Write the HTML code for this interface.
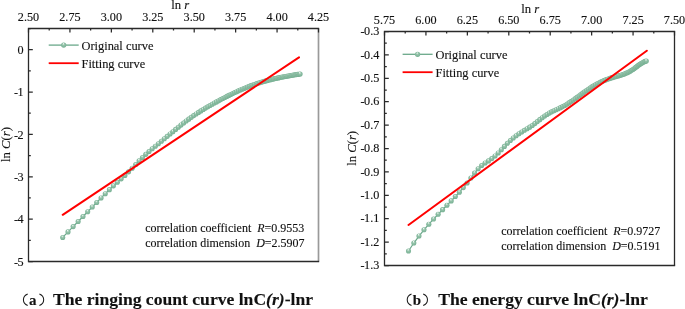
<!DOCTYPE html>
<html><head><meta charset="utf-8"><style>
html,body{margin:0;padding:0;background:#fff;}
svg{display:block;}
svg{font-family:"Liberation Serif",serif;font-size:12px;will-change:transform;} text{fill:#111;stroke:#111;stroke-width:0.12px;}
</style></head><body>
<svg width="685" height="309" viewBox="0 0 685 309">
<defs>
<radialGradient id="ball" cx="0.5" cy="0.5" r="0.5" fx="0.42" fy="0.2">
<stop offset="0" stop-color="#f7fbf9"/>
<stop offset="0.2" stop-color="#cde3d6"/>
<stop offset="0.45" stop-color="#93c2a9"/>
<stop offset="0.85" stop-color="#80b69a"/>
<stop offset="1" stop-color="#76af92"/>
</radialGradient>
<clipPath id="clipL"><rect x="29" y="29" width="289" height="232"/></clipPath>
<clipPath id="clipR"><rect x="385" y="32" width="289" height="233"/></clipPath>
</defs>
<rect width="685" height="309" fill="#fff"/>
<path d="M318.5 28.5V261.5" stroke="#9a9a9a" stroke-width="1.7" fill="none"/>
<path d="M318.5 28.5H28.5V261.5H318.5" fill="none" stroke="#2a2a2a" stroke-width="1.3" stroke-linecap="square"/>
<path d="M28.5 28.5v4 M69.93 28.5v4 M111.36 28.5v4 M152.79 28.5v4 M194.21 28.5v4 M235.64 28.5v4 M277.07 28.5v4 M318.5 28.5v4 M49.21 28.5v2 M90.64 28.5v2 M132.07 28.5v2 M173.5 28.5v2 M214.93 28.5v2 M256.36 28.5v2 M297.79 28.5v2 M28.5 49.68h4.3 M28.5 92.05h4.3 M28.5 134.41h4.3 M28.5 176.77h4.3 M28.5 219.14h4.3 M28.5 261.5h4.3 M28.5 28.5h2.3 M28.5 70.86h2.3 M28.5 113.23h2.3 M28.5 155.59h2.3 M28.5 197.95h2.3 M28.5 240.32h2.3" stroke="#2a2a2a" stroke-width="1.25" fill="none"/>
<text x="28.5" y="21.2" text-anchor="middle" font-size="12.2">2.50</text>
<text x="69.93" y="21.2" text-anchor="middle" font-size="12.2">2.75</text>
<text x="111.36" y="21.2" text-anchor="middle" font-size="12.2">3.00</text>
<text x="152.79" y="21.2" text-anchor="middle" font-size="12.2">3.25</text>
<text x="194.21" y="21.2" text-anchor="middle" font-size="12.2">3.50</text>
<text x="235.64" y="21.2" text-anchor="middle" font-size="12.2">3.75</text>
<text x="277.07" y="21.2" text-anchor="middle" font-size="12.2">4.00</text>
<text x="318.5" y="21.2" text-anchor="middle" font-size="12.2">4.25</text>
<text x="23.7" y="53.88" text-anchor="end" font-size="12.2">0</text>
<text x="23.7" y="96.25" text-anchor="end" font-size="12.2">-<tspan dx="-0.4">1</tspan></text>
<text x="23.7" y="138.61" text-anchor="end" font-size="12.2">-<tspan dx="-0.4">2</tspan></text>
<text x="23.7" y="180.97" text-anchor="end" font-size="12.2">-<tspan dx="-0.4">3</tspan></text>
<text x="23.7" y="223.34" text-anchor="end" font-size="12.2">-<tspan dx="-0.4">4</tspan></text>
<text x="23.7" y="265.7" text-anchor="end" font-size="12.2">-<tspan dx="-0.4">5</tspan></text>
<text x="171.2" y="8.8" font-size="12.7">ln <tspan font-style="italic">r</tspan></text>
<text transform="translate(9.6,144.5) rotate(-90)" text-anchor="middle" font-size="12.7">ln <tspan font-style="italic">C</tspan>(<tspan font-style="italic">r</tspan>)</text>
<g clip-path="url(#clipL)">
<path d="M62.7 237.43 L68.01 231.89 L73.15 226.58 L78.14 221.46 L82.98 216.51 L87.68 211.71 L92.26 207.03 L96.71 202.45 L101.05 197.98 L105.27 193.69 L109.39 189.63 L113.41 185.86 L117.34 182.3 L121.17 178.85 L124.92 175.41 L128.58 171.87 L132.17 168.19 L135.68 164.47 L139.11 160.85 L142.48 157.44 L145.78 154.33 L149.01 151.47 L152.19 148.79 L155.3 146.21 L158.36 143.7 L161.36 141.22 L164.3 138.77 L167.2 136.36 L170.05 133.99 L172.84 131.68 L175.6 129.42 L178.3 127.22 L180.97 125.09 L183.59 123.03 L186.17 121.05 L188.71 119.15 L191.21 117.33 L193.68 115.6 L196.1 113.95 L198.5 112.39 L200.86 110.9 L203.18 109.48 L205.48 108.12 L207.74 106.8 L209.97 105.53 L212.18 104.29 L214.35 103.07 L216.5 101.89 L218.62 100.74 L220.71 99.61 L222.77 98.52 L224.81 97.45 L226.83 96.41 L228.82 95.4 L230.79 94.43 L232.73 93.48 L234.65 92.57 L236.55 91.68 L238.43 90.83 L240.29 90.01 L242.13 89.21 L243.94 88.44 L245.74 87.71 L247.52 87 L249.28 86.32 L251.02 85.67 L252.74 85.04 L254.44 84.45 L256.13 83.87 L257.8 83.32 L259.45 82.8 L261.09 82.29 L262.71 81.81 L264.32 81.34 L265.91 80.9 L267.48 80.47 L269.04 80.06 L270.59 79.67 L272.12 79.29 L273.64 78.92 L275.14 78.57 L276.63 78.23 L278.11 77.91 L279.57 77.6 L281.02 77.3 L282.46 77.01 L283.88 76.73 L285.3 76.46 L286.7 76.2 L288.09 75.95 L289.47 75.7 L290.83 75.47 L292.19 75.24 L293.53 75.02 L294.87 74.81 L296.19 74.6 L297.51 74.4 L298.81 74.2 L300.1 74.01" fill="none" stroke="#6aa88a" stroke-width="1.2"/>
<circle cx="62.7" cy="237.43" r="2.55" fill="url(#ball)"/>
<circle cx="68.01" cy="231.89" r="2.55" fill="url(#ball)"/>
<circle cx="73.15" cy="226.58" r="2.55" fill="url(#ball)"/>
<circle cx="78.14" cy="221.46" r="2.55" fill="url(#ball)"/>
<circle cx="82.98" cy="216.51" r="2.55" fill="url(#ball)"/>
<circle cx="87.68" cy="211.71" r="2.55" fill="url(#ball)"/>
<circle cx="92.26" cy="207.03" r="2.55" fill="url(#ball)"/>
<circle cx="96.71" cy="202.45" r="2.55" fill="url(#ball)"/>
<circle cx="101.05" cy="197.98" r="2.55" fill="url(#ball)"/>
<circle cx="105.27" cy="193.69" r="2.55" fill="url(#ball)"/>
<circle cx="109.39" cy="189.63" r="2.55" fill="url(#ball)"/>
<circle cx="113.41" cy="185.86" r="2.55" fill="url(#ball)"/>
<circle cx="117.34" cy="182.3" r="2.55" fill="url(#ball)"/>
<circle cx="121.17" cy="178.85" r="2.55" fill="url(#ball)"/>
<circle cx="124.92" cy="175.41" r="2.55" fill="url(#ball)"/>
<circle cx="128.58" cy="171.87" r="2.55" fill="url(#ball)"/>
<circle cx="132.17" cy="168.19" r="2.55" fill="url(#ball)"/>
<circle cx="135.68" cy="164.47" r="2.55" fill="url(#ball)"/>
<circle cx="139.11" cy="160.85" r="2.55" fill="url(#ball)"/>
<circle cx="142.48" cy="157.44" r="2.55" fill="url(#ball)"/>
<circle cx="145.78" cy="154.33" r="2.55" fill="url(#ball)"/>
<circle cx="149.01" cy="151.47" r="2.55" fill="url(#ball)"/>
<circle cx="152.19" cy="148.79" r="2.55" fill="url(#ball)"/>
<circle cx="155.3" cy="146.21" r="2.55" fill="url(#ball)"/>
<circle cx="158.36" cy="143.7" r="2.55" fill="url(#ball)"/>
<circle cx="161.36" cy="141.22" r="2.55" fill="url(#ball)"/>
<circle cx="164.3" cy="138.77" r="2.55" fill="url(#ball)"/>
<circle cx="167.2" cy="136.36" r="2.55" fill="url(#ball)"/>
<circle cx="170.05" cy="133.99" r="2.55" fill="url(#ball)"/>
<circle cx="172.84" cy="131.68" r="2.55" fill="url(#ball)"/>
<circle cx="175.6" cy="129.42" r="2.55" fill="url(#ball)"/>
<circle cx="178.3" cy="127.22" r="2.55" fill="url(#ball)"/>
<circle cx="180.97" cy="125.09" r="2.55" fill="url(#ball)"/>
<circle cx="183.59" cy="123.03" r="2.55" fill="url(#ball)"/>
<circle cx="186.17" cy="121.05" r="2.55" fill="url(#ball)"/>
<circle cx="188.71" cy="119.15" r="2.55" fill="url(#ball)"/>
<circle cx="191.21" cy="117.33" r="2.55" fill="url(#ball)"/>
<circle cx="193.68" cy="115.6" r="2.55" fill="url(#ball)"/>
<circle cx="196.1" cy="113.95" r="2.55" fill="url(#ball)"/>
<circle cx="198.5" cy="112.39" r="2.55" fill="url(#ball)"/>
<circle cx="200.86" cy="110.9" r="2.55" fill="url(#ball)"/>
<circle cx="203.18" cy="109.48" r="2.55" fill="url(#ball)"/>
<circle cx="205.48" cy="108.12" r="2.55" fill="url(#ball)"/>
<circle cx="207.74" cy="106.8" r="2.55" fill="url(#ball)"/>
<circle cx="209.97" cy="105.53" r="2.55" fill="url(#ball)"/>
<circle cx="212.18" cy="104.29" r="2.55" fill="url(#ball)"/>
<circle cx="214.35" cy="103.07" r="2.55" fill="url(#ball)"/>
<circle cx="216.5" cy="101.89" r="2.55" fill="url(#ball)"/>
<circle cx="218.62" cy="100.74" r="2.55" fill="url(#ball)"/>
<circle cx="220.71" cy="99.61" r="2.55" fill="url(#ball)"/>
<circle cx="222.77" cy="98.52" r="2.55" fill="url(#ball)"/>
<circle cx="224.81" cy="97.45" r="2.55" fill="url(#ball)"/>
<circle cx="226.83" cy="96.41" r="2.55" fill="url(#ball)"/>
<circle cx="228.82" cy="95.4" r="2.55" fill="url(#ball)"/>
<circle cx="230.79" cy="94.43" r="2.55" fill="url(#ball)"/>
<circle cx="232.73" cy="93.48" r="2.55" fill="url(#ball)"/>
<circle cx="234.65" cy="92.57" r="2.55" fill="url(#ball)"/>
<circle cx="236.55" cy="91.68" r="2.55" fill="url(#ball)"/>
<circle cx="238.43" cy="90.83" r="2.55" fill="url(#ball)"/>
<circle cx="240.29" cy="90.01" r="2.55" fill="url(#ball)"/>
<circle cx="242.13" cy="89.21" r="2.55" fill="url(#ball)"/>
<circle cx="243.94" cy="88.44" r="2.55" fill="url(#ball)"/>
<circle cx="245.74" cy="87.71" r="2.55" fill="url(#ball)"/>
<circle cx="247.52" cy="87" r="2.55" fill="url(#ball)"/>
<circle cx="249.28" cy="86.32" r="2.55" fill="url(#ball)"/>
<circle cx="251.02" cy="85.67" r="2.55" fill="url(#ball)"/>
<circle cx="252.74" cy="85.04" r="2.55" fill="url(#ball)"/>
<circle cx="254.44" cy="84.45" r="2.55" fill="url(#ball)"/>
<circle cx="256.13" cy="83.87" r="2.55" fill="url(#ball)"/>
<circle cx="257.8" cy="83.32" r="2.55" fill="url(#ball)"/>
<circle cx="259.45" cy="82.8" r="2.55" fill="url(#ball)"/>
<circle cx="261.09" cy="82.29" r="2.55" fill="url(#ball)"/>
<circle cx="262.71" cy="81.81" r="2.55" fill="url(#ball)"/>
<circle cx="264.32" cy="81.34" r="2.55" fill="url(#ball)"/>
<circle cx="265.91" cy="80.9" r="2.55" fill="url(#ball)"/>
<circle cx="267.48" cy="80.47" r="2.55" fill="url(#ball)"/>
<circle cx="269.04" cy="80.06" r="2.55" fill="url(#ball)"/>
<circle cx="270.59" cy="79.67" r="2.55" fill="url(#ball)"/>
<circle cx="272.12" cy="79.29" r="2.55" fill="url(#ball)"/>
<circle cx="273.64" cy="78.92" r="2.55" fill="url(#ball)"/>
<circle cx="275.14" cy="78.57" r="2.55" fill="url(#ball)"/>
<circle cx="276.63" cy="78.23" r="2.55" fill="url(#ball)"/>
<circle cx="278.11" cy="77.91" r="2.55" fill="url(#ball)"/>
<circle cx="279.57" cy="77.6" r="2.55" fill="url(#ball)"/>
<circle cx="281.02" cy="77.3" r="2.55" fill="url(#ball)"/>
<circle cx="282.46" cy="77.01" r="2.55" fill="url(#ball)"/>
<circle cx="283.88" cy="76.73" r="2.55" fill="url(#ball)"/>
<circle cx="285.3" cy="76.46" r="2.55" fill="url(#ball)"/>
<circle cx="286.7" cy="76.2" r="2.55" fill="url(#ball)"/>
<circle cx="288.09" cy="75.95" r="2.55" fill="url(#ball)"/>
<circle cx="289.47" cy="75.7" r="2.55" fill="url(#ball)"/>
<circle cx="290.83" cy="75.47" r="2.55" fill="url(#ball)"/>
<circle cx="292.19" cy="75.24" r="2.55" fill="url(#ball)"/>
<circle cx="293.53" cy="75.02" r="2.55" fill="url(#ball)"/>
<circle cx="294.87" cy="74.81" r="2.55" fill="url(#ball)"/>
<circle cx="296.19" cy="74.6" r="2.55" fill="url(#ball)"/>
<circle cx="297.51" cy="74.4" r="2.55" fill="url(#ball)"/>
<circle cx="298.81" cy="74.2" r="2.55" fill="url(#ball)"/>
<circle cx="300.1" cy="74.01" r="2.55" fill="url(#ball)"/>
<line x1="62.7" y1="214.8" x2="299" y2="57.4" stroke="#f00" stroke-width="2" stroke-linecap="round"/>
</g>
<line x1="48.7" y1="45.1" x2="78.7" y2="45.1" stroke="#6aa88a" stroke-width="1.3"/>
<circle cx="63.7" cy="45.1" r="2.6" fill="url(#ball)"/>
<line x1="48.7" y1="63.2" x2="78.7" y2="63.2" stroke="#f00" stroke-width="1.8"/>
<text x="81.5" y="50" font-size="12.4">Original curve</text>
<text x="81.5" y="67.7" font-size="12.4">Fitting curve</text>
<text x="145.2" y="231.5" xml:space="preserve">correlation coefficient  <tspan font-style="italic">R</tspan>=0.9553</text>
<text x="145.2" y="246.5" xml:space="preserve">correlation dimension  <tspan font-style="italic">D</tspan>=2.5907</text>
<path d="M27.7 294 C22 296.2 22 303.3 27.7 305.5 M39.4 294 C45.1 296.2 45.1 303.3 39.4 305.5" fill="none" stroke="#1a1a1a" stroke-width="1.05"/>
<g style="font-weight:bold;font-size:17.6px"><text x="29" y="304.9" font-size="15">a</text><text x="53" y="305.4">The ringing count curve lnC<tspan font-style="italic">(r)</tspan>-lnr</text></g>
<path d="M674.5 31.5V265.5" stroke="#2a2a2a" stroke-width="1.3" fill="none"/>
<path d="M674.5 31.5H384.5V265.5H674.5" fill="none" stroke="#2a2a2a" stroke-width="1.3" stroke-linecap="square"/>
<path d="M384.5 31.5v4 M425.93 31.5v4 M467.36 31.5v4 M508.79 31.5v4 M550.21 31.5v4 M591.64 31.5v4 M633.07 31.5v4 M674.5 31.5v4 M405.21 31.5v2 M446.64 31.5v2 M488.07 31.5v2 M529.5 31.5v2 M570.93 31.5v2 M612.36 31.5v2 M653.79 31.5v2 M384.5 31.5h4.3 M384.5 54.9h4.3 M384.5 78.3h4.3 M384.5 101.7h4.3 M384.5 125.1h4.3 M384.5 148.5h4.3 M384.5 171.9h4.3 M384.5 195.3h4.3 M384.5 218.7h4.3 M384.5 242.1h4.3 M384.5 265.5h4.3 M384.5 43.2h2.3 M384.5 66.6h2.3 M384.5 90h2.3 M384.5 113.4h2.3 M384.5 136.8h2.3 M384.5 160.2h2.3 M384.5 183.6h2.3 M384.5 207h2.3 M384.5 230.4h2.3 M384.5 253.8h2.3" stroke="#2a2a2a" stroke-width="1.25" fill="none"/>
<text x="384.5" y="23.9" text-anchor="middle" font-size="12.2">5.75</text>
<text x="425.93" y="23.9" text-anchor="middle" font-size="12.2">6.00</text>
<text x="467.36" y="23.9" text-anchor="middle" font-size="12.2">6.25</text>
<text x="508.79" y="23.9" text-anchor="middle" font-size="12.2">6.50</text>
<text x="550.21" y="23.9" text-anchor="middle" font-size="12.2">6.75</text>
<text x="591.64" y="23.9" text-anchor="middle" font-size="12.2">7.00</text>
<text x="633.07" y="23.9" text-anchor="middle" font-size="12.2">7.25</text>
<text x="674.5" y="23.9" text-anchor="middle" font-size="12.2">7.50</text>
<text x="379.3" y="35.1" text-anchor="end" font-size="12.2">-<tspan dx="-0.4">0.3</tspan></text>
<text x="379.3" y="58.5" text-anchor="end" font-size="12.2">-<tspan dx="-0.4">0.4</tspan></text>
<text x="379.3" y="81.9" text-anchor="end" font-size="12.2">-<tspan dx="-0.4">0.5</tspan></text>
<text x="379.3" y="105.3" text-anchor="end" font-size="12.2">-<tspan dx="-0.4">0.6</tspan></text>
<text x="379.3" y="128.7" text-anchor="end" font-size="12.2">-<tspan dx="-0.4">0.7</tspan></text>
<text x="379.3" y="152.1" text-anchor="end" font-size="12.2">-<tspan dx="-0.4">0.8</tspan></text>
<text x="379.3" y="175.5" text-anchor="end" font-size="12.2">-<tspan dx="-0.4">0.9</tspan></text>
<text x="379.3" y="198.9" text-anchor="end" font-size="12.2">-<tspan dx="-0.4">1.0</tspan></text>
<text x="379.3" y="222.3" text-anchor="end" font-size="12.2">-<tspan dx="-0.4">1.1</tspan></text>
<text x="379.3" y="245.7" text-anchor="end" font-size="12.2">-<tspan dx="-0.4">1.2</tspan></text>
<text x="379.3" y="269.1" text-anchor="end" font-size="12.2">-<tspan dx="-0.4">1.3</tspan></text>
<text x="521.2" y="12.6" font-size="12.7">ln <tspan font-style="italic">r</tspan></text>
<text transform="translate(356,148.4) rotate(-90)" text-anchor="middle" font-size="12.7">ln <tspan font-style="italic">C</tspan>(<tspan font-style="italic">r</tspan>)</text>
<g clip-path="url(#clipR)">
<path d="M408.5 251.01 L413.82 243.04 L418.98 236.04 L423.98 229.81 L428.84 224.19 L433.56 219.03 L438.15 214.22 L442.61 209.65 L446.96 205.24 L451.19 200.89 L455.32 196.54 L459.35 192.14 L463.28 187.61 L467.13 182.93 L470.88 178.04 L474.55 173.07 L478.15 168.7 L481.66 165.49 L485.11 163.07 L488.48 160.89 L491.79 158.62 L495.03 156 L498.21 152.95 L501.33 149.68 L504.39 146.4 L507.39 143.31 L510.35 140.51 L513.25 137.98 L516.1 135.72 L518.9 133.71 L521.66 131.94 L524.37 130.31 L527.03 128.74 L529.66 127.15 L532.24 125.45 L534.79 123.58 L537.29 121.62 L539.76 119.64 L542.19 117.74 L544.59 115.98 L546.96 114.44 L549.28 113.08 L551.58 111.87 L553.85 110.76 L556.08 109.71 L558.29 108.68 L560.47 107.65 L562.62 106.58 L564.74 105.44 L566.83 104.22 L568.9 102.92 L570.94 101.58 L572.96 100.19 L574.95 98.78 L576.92 97.36 L578.87 95.94 L580.79 94.53 L582.7 93.15 L584.58 91.8 L586.43 90.5 L588.27 89.24 L590.09 88.04 L591.89 86.91 L593.67 85.84 L595.43 84.82 L597.17 83.87 L598.9 82.97 L600.6 82.12 L602.29 81.33 L603.96 80.59 L605.62 79.91 L607.26 79.27 L608.88 78.68 L610.49 78.14 L612.08 77.65 L613.65 77.18 L615.22 76.74 L616.76 76.31 L618.3 75.88 L619.81 75.43 L621.32 74.96 L622.81 74.47 L624.29 73.93 L625.75 73.34 L627.2 72.7 L628.64 72 L630.07 71.22 L631.49 70.37 L632.89 69.44 L634.28 68.44 L635.66 67.42 L637.03 66.38 L638.38 65.37 L639.73 64.4 L641.06 63.5 L642.39 62.69 L643.7 61.99 L645.01 61.42 L646.3 61" fill="none" stroke="#6aa88a" stroke-width="1.2"/>
<circle cx="408.5" cy="251.01" r="2.55" fill="url(#ball)"/>
<circle cx="413.82" cy="243.04" r="2.55" fill="url(#ball)"/>
<circle cx="418.98" cy="236.04" r="2.55" fill="url(#ball)"/>
<circle cx="423.98" cy="229.81" r="2.55" fill="url(#ball)"/>
<circle cx="428.84" cy="224.19" r="2.55" fill="url(#ball)"/>
<circle cx="433.56" cy="219.03" r="2.55" fill="url(#ball)"/>
<circle cx="438.15" cy="214.22" r="2.55" fill="url(#ball)"/>
<circle cx="442.61" cy="209.65" r="2.55" fill="url(#ball)"/>
<circle cx="446.96" cy="205.24" r="2.55" fill="url(#ball)"/>
<circle cx="451.19" cy="200.89" r="2.55" fill="url(#ball)"/>
<circle cx="455.32" cy="196.54" r="2.55" fill="url(#ball)"/>
<circle cx="459.35" cy="192.14" r="2.55" fill="url(#ball)"/>
<circle cx="463.28" cy="187.61" r="2.55" fill="url(#ball)"/>
<circle cx="467.13" cy="182.93" r="2.55" fill="url(#ball)"/>
<circle cx="470.88" cy="178.04" r="2.55" fill="url(#ball)"/>
<circle cx="474.55" cy="173.07" r="2.55" fill="url(#ball)"/>
<circle cx="478.15" cy="168.7" r="2.55" fill="url(#ball)"/>
<circle cx="481.66" cy="165.49" r="2.55" fill="url(#ball)"/>
<circle cx="485.11" cy="163.07" r="2.55" fill="url(#ball)"/>
<circle cx="488.48" cy="160.89" r="2.55" fill="url(#ball)"/>
<circle cx="491.79" cy="158.62" r="2.55" fill="url(#ball)"/>
<circle cx="495.03" cy="156" r="2.55" fill="url(#ball)"/>
<circle cx="498.21" cy="152.95" r="2.55" fill="url(#ball)"/>
<circle cx="501.33" cy="149.68" r="2.55" fill="url(#ball)"/>
<circle cx="504.39" cy="146.4" r="2.55" fill="url(#ball)"/>
<circle cx="507.39" cy="143.31" r="2.55" fill="url(#ball)"/>
<circle cx="510.35" cy="140.51" r="2.55" fill="url(#ball)"/>
<circle cx="513.25" cy="137.98" r="2.55" fill="url(#ball)"/>
<circle cx="516.1" cy="135.72" r="2.55" fill="url(#ball)"/>
<circle cx="518.9" cy="133.71" r="2.55" fill="url(#ball)"/>
<circle cx="521.66" cy="131.94" r="2.55" fill="url(#ball)"/>
<circle cx="524.37" cy="130.31" r="2.55" fill="url(#ball)"/>
<circle cx="527.03" cy="128.74" r="2.55" fill="url(#ball)"/>
<circle cx="529.66" cy="127.15" r="2.55" fill="url(#ball)"/>
<circle cx="532.24" cy="125.45" r="2.55" fill="url(#ball)"/>
<circle cx="534.79" cy="123.58" r="2.55" fill="url(#ball)"/>
<circle cx="537.29" cy="121.62" r="2.55" fill="url(#ball)"/>
<circle cx="539.76" cy="119.64" r="2.55" fill="url(#ball)"/>
<circle cx="542.19" cy="117.74" r="2.55" fill="url(#ball)"/>
<circle cx="544.59" cy="115.98" r="2.55" fill="url(#ball)"/>
<circle cx="546.96" cy="114.44" r="2.55" fill="url(#ball)"/>
<circle cx="549.28" cy="113.08" r="2.55" fill="url(#ball)"/>
<circle cx="551.58" cy="111.87" r="2.55" fill="url(#ball)"/>
<circle cx="553.85" cy="110.76" r="2.55" fill="url(#ball)"/>
<circle cx="556.08" cy="109.71" r="2.55" fill="url(#ball)"/>
<circle cx="558.29" cy="108.68" r="2.55" fill="url(#ball)"/>
<circle cx="560.47" cy="107.65" r="2.55" fill="url(#ball)"/>
<circle cx="562.62" cy="106.58" r="2.55" fill="url(#ball)"/>
<circle cx="564.74" cy="105.44" r="2.55" fill="url(#ball)"/>
<circle cx="566.83" cy="104.22" r="2.55" fill="url(#ball)"/>
<circle cx="568.9" cy="102.92" r="2.55" fill="url(#ball)"/>
<circle cx="570.94" cy="101.58" r="2.55" fill="url(#ball)"/>
<circle cx="572.96" cy="100.19" r="2.55" fill="url(#ball)"/>
<circle cx="574.95" cy="98.78" r="2.55" fill="url(#ball)"/>
<circle cx="576.92" cy="97.36" r="2.55" fill="url(#ball)"/>
<circle cx="578.87" cy="95.94" r="2.55" fill="url(#ball)"/>
<circle cx="580.79" cy="94.53" r="2.55" fill="url(#ball)"/>
<circle cx="582.7" cy="93.15" r="2.55" fill="url(#ball)"/>
<circle cx="584.58" cy="91.8" r="2.55" fill="url(#ball)"/>
<circle cx="586.43" cy="90.5" r="2.55" fill="url(#ball)"/>
<circle cx="588.27" cy="89.24" r="2.55" fill="url(#ball)"/>
<circle cx="590.09" cy="88.04" r="2.55" fill="url(#ball)"/>
<circle cx="591.89" cy="86.91" r="2.55" fill="url(#ball)"/>
<circle cx="593.67" cy="85.84" r="2.55" fill="url(#ball)"/>
<circle cx="595.43" cy="84.82" r="2.55" fill="url(#ball)"/>
<circle cx="597.17" cy="83.87" r="2.55" fill="url(#ball)"/>
<circle cx="598.9" cy="82.97" r="2.55" fill="url(#ball)"/>
<circle cx="600.6" cy="82.12" r="2.55" fill="url(#ball)"/>
<circle cx="602.29" cy="81.33" r="2.55" fill="url(#ball)"/>
<circle cx="603.96" cy="80.59" r="2.55" fill="url(#ball)"/>
<circle cx="605.62" cy="79.91" r="2.55" fill="url(#ball)"/>
<circle cx="607.26" cy="79.27" r="2.55" fill="url(#ball)"/>
<circle cx="608.88" cy="78.68" r="2.55" fill="url(#ball)"/>
<circle cx="610.49" cy="78.14" r="2.55" fill="url(#ball)"/>
<circle cx="612.08" cy="77.65" r="2.55" fill="url(#ball)"/>
<circle cx="613.65" cy="77.18" r="2.55" fill="url(#ball)"/>
<circle cx="615.22" cy="76.74" r="2.55" fill="url(#ball)"/>
<circle cx="616.76" cy="76.31" r="2.55" fill="url(#ball)"/>
<circle cx="618.3" cy="75.88" r="2.55" fill="url(#ball)"/>
<circle cx="619.81" cy="75.43" r="2.55" fill="url(#ball)"/>
<circle cx="621.32" cy="74.96" r="2.55" fill="url(#ball)"/>
<circle cx="622.81" cy="74.47" r="2.55" fill="url(#ball)"/>
<circle cx="624.29" cy="73.93" r="2.55" fill="url(#ball)"/>
<circle cx="625.75" cy="73.34" r="2.55" fill="url(#ball)"/>
<circle cx="627.2" cy="72.7" r="2.55" fill="url(#ball)"/>
<circle cx="628.64" cy="72" r="2.55" fill="url(#ball)"/>
<circle cx="630.07" cy="71.22" r="2.55" fill="url(#ball)"/>
<circle cx="631.49" cy="70.37" r="2.55" fill="url(#ball)"/>
<circle cx="632.89" cy="69.44" r="2.55" fill="url(#ball)"/>
<circle cx="634.28" cy="68.44" r="2.55" fill="url(#ball)"/>
<circle cx="635.66" cy="67.42" r="2.55" fill="url(#ball)"/>
<circle cx="637.03" cy="66.38" r="2.55" fill="url(#ball)"/>
<circle cx="638.38" cy="65.37" r="2.55" fill="url(#ball)"/>
<circle cx="639.73" cy="64.4" r="2.55" fill="url(#ball)"/>
<circle cx="641.06" cy="63.5" r="2.55" fill="url(#ball)"/>
<circle cx="642.39" cy="62.69" r="2.55" fill="url(#ball)"/>
<circle cx="643.7" cy="61.99" r="2.55" fill="url(#ball)"/>
<circle cx="645.01" cy="61.42" r="2.55" fill="url(#ball)"/>
<circle cx="646.3" cy="61" r="2.55" fill="url(#ball)"/>
<line x1="408.5" y1="225" x2="646.8" y2="50.7" stroke="#f00" stroke-width="2" stroke-linecap="round"/>
</g>
<line x1="402.6" y1="54.3" x2="432.6" y2="54.3" stroke="#6aa88a" stroke-width="1.3"/>
<circle cx="417.6" cy="54.3" r="2.6" fill="url(#ball)"/>
<line x1="402.6" y1="72.2" x2="432.6" y2="72.2" stroke="#f00" stroke-width="1.8"/>
<text x="435.5" y="59.2" font-size="12.4">Original curve</text>
<text x="435.5" y="76.7" font-size="12.4">Fitting curve</text>
<text x="501.2" y="235.3" xml:space="preserve">correlation coefficient  <tspan font-style="italic">R</tspan>=0.9727</text>
<text x="501.2" y="250.3" xml:space="preserve">correlation dimension  <tspan font-style="italic">D</tspan>=0.5191</text>
<path d="M411.5 294 C405.8 296.2 405.8 303.3 411.5 305.5 M423.2 294 C428.9 296.2 428.9 303.3 423.2 305.5" fill="none" stroke="#1a1a1a" stroke-width="1.05"/>
<g style="font-weight:bold;font-size:17.6px"><text x="412.8" y="304.9" font-size="15">b</text><text x="438.2" y="305.4">The energy curve lnC<tspan font-style="italic">(r)</tspan>-lnr</text></g>
</svg>
</body></html>
